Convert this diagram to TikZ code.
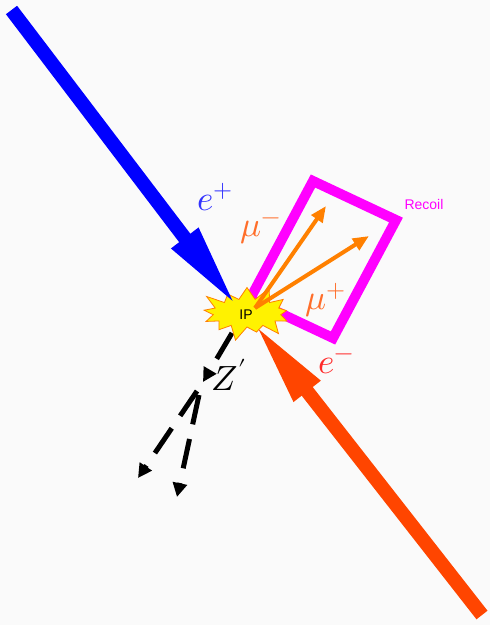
\documentclass[tikz,border=0pt]{standalone}
\usepackage{fontspec}
\usepackage{unicode-math}
\setmathfont{Latin Modern Math}
\setsansfont{Liberation Sans}
\usetikzlibrary{arrows.meta,shapes.symbols}
\definecolor{bg}{RGB}{250,250,250}
\definecolor{beamblue}{RGB}{0,0,255}
\definecolor{beamred}{RGB}{255,69,0}
\definecolor{recoil}{RGB}{255,0,255}
\definecolor{muorange}{RGB}{255,128,0}
\definecolor{mulabel}{RGB}{255,110,42}
\definecolor{eplus}{RGB}{51,51,255}
\definecolor{eminus}{RGB}{255,42,42}
\tikzset{
  beam/.style={line width=14pt,-{Triangle[length=88pt,width=30pt]}},
  muon/.style={line width=4pt,color=muorange,-{Triangle[length=16pt,width=13pt]}},
  zline/.style={line width=5pt,black,dash pattern=on 30pt off 15pt,-{Triangle[length=14pt,width=14pt]}},
  biglabel/.style={font=\fontsize{35}{38}\selectfont,inner sep=0pt},
}
\begin{document}
\begin{tikzpicture}[x=1pt,y=-1pt]
\fill[bg] (0,0) rectangle (490,625);
\useasboundingbox (0,0) rectangle (490,625);
% coordinates
\coordinate (bstart) at (11.5,10);
\coordinate (btip) at (238,308);
\coordinate (rstart) at (482,615);
\coordinate (rtip) at (253,322);
\coordinate (mo) at (255,308);
\coordinate (m1) at (326,206);
\coordinate (m2) at (369,236);
\coordinate (rt) at (313,181);
\coordinate (rr) at (396,220);
\coordinate (rb) at (333,338);
\coordinate (rl) at (250,299);
\coordinate (z0) at (232,333);
\coordinate (z1) at (203,382);
\coordinate (z2s) at (197,391);
\coordinate (z2) at (138,478);
\coordinate (z3s) at (199,395);
\coordinate (z3) at (177,497);
% recoil box
\draw[recoil,line width=10pt,line join=miter] (rt) -- (rr) -- (rb) -- (rl) -- cycle;
% Z' lines
\draw[zline] (z0) -- (z1);
\draw[zline] (z2s) -- (z2);
\draw[zline] (z3s) -- (z3);
% IP star
\node[starburst,starburst points=13,starburst point height=16pt,
      minimum width=100pt,minimum height=60pt,inner sep=0pt,
      fill=yellow,draw=muorange,line width=0.8pt] (ip) at (247,313) {};
% beams
\draw[beam,beamblue] (bstart) -- (btip);
\draw[beam,beamred] (rstart) -- (rtip);
% muons
\draw[muon] (mo) -- (m1);
\draw[muon] (mo) -- (m2);
\node[font=\sffamily\fontsize{14}{16}\selectfont,inner sep=0pt] (iplabel) at (246,315) {IP};
% labels
\node[biglabel,text=eplus] (lep) at (215,197) {$e^+$};
\node[biglabel,text=eminus] (lem) at (336,364) {$e^-$};
\node[biglabel,text=mulabel] (lmm) at (261,231) {$\mu^-$};
\node[biglabel,text=mulabel] (lmp) at (326,300) {$\mu^+$};
\node[biglabel,text=black] (lz) at (229,375) {$Z'$};
\node[font=\sffamily\fontsize{14}{16}\selectfont,text=recoil,inner sep=0pt] (lrec) at (424,204) {Recoil};
\end{tikzpicture}
\end{document}
